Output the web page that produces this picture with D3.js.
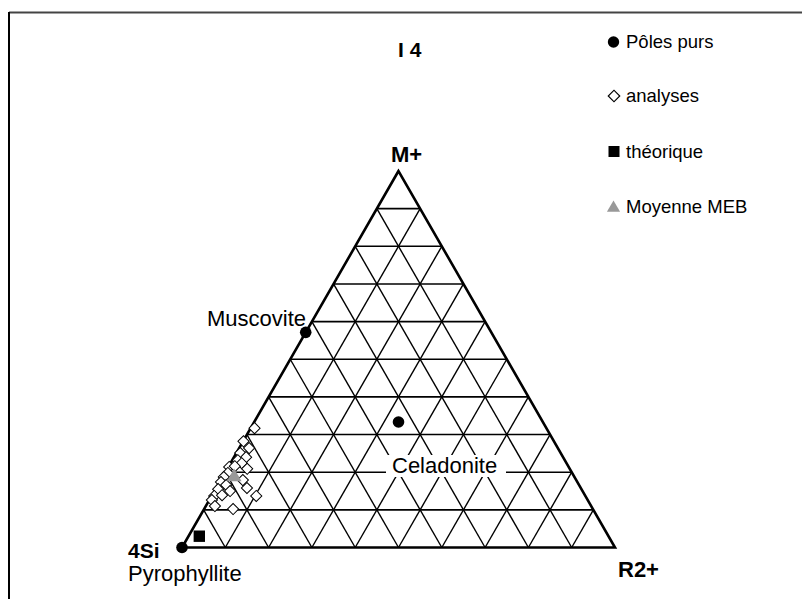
<!DOCTYPE html>
<html>
<head>
<meta charset="utf-8">
<script src="https://cdn.jsdelivr.net/npm/d3@7"></script>
<style>
  html, body { margin: 0; padding: 0; background: #fff; }
  svg { display: block; font-family: "Liberation Sans", Arial, sans-serif; }
</style>
</head>
<body>
<svg id="chart" width="802" height="599"></svg>
<script>
// ---------- data ----------
const title = "I 4";
const vertexLabels = ["M+", "4Si", "R2+"];
const gridSteps = [0.1, 0.2, 0.3, 0.4, 0.5, 0.6, 0.7, 0.8, 0.9];

// pure end-members (Pôles purs): M+, 4Si, R2+
const polesNames = ["Muscovite", "Celadonite", "Pyrophyllite"];
const polesM  = [1, 1, 0];
const polesSi = [0.75, 1, 1];
const polesR  = [0, 1, 0];

// analyses (percent M+, R2+; 4Si = remainder)
const analysesM = [31.7, 28.2, 26.4, 25.1, 24.0, 23.2, 22.4, 20.9, 21.4, 21.6, 19.8, 18.7,
                   17.9, 17.4, 16.6, 15.5, 15.8, 15.0, 13.7, 12.6, 13.7, 11.0, 10.2, 13.9];
const analysesR = [0.9, 0.1, 2.3, 0.9, 2.8, 1.3, 2.6, 4.6, 0.2, 1.4, 0.7, 0.3,
                   5.1, 0.3, 1.9, 0.6, 7.1, 3.6, 0.6, 0.6, 10.3, 2.1, 6.7, 2.3];
const analysesSi = analysesM.map((m, i) => 100 - m - analysesR[i]);

// théorique
const theoM = [3.0], theoR = [2.5], theoSi = [94.5];
// Moyenne MEB
const mebM = [18.7], mebR = [2.7], mebSi = [78.6];

const legendLabels = ["Pôles purs", "analyses", "théorique", "Moyenne MEB"];

// ---------- scales ----------
const svg = d3.select("#chart");
const xs = d3.scaleLinear().domain([0, 1]).range([182, 615]);
const ys = d3.scaleLinear().domain([0, 1]).range([547.5, 171]);
function proj(m, s, r) {
  const t = m + s + r;
  const mm = m / t, rr = r / t;
  return [xs(rr + mm / 2), ys(mm)];
}
const line = d3.line();

// ---------- frame ----------
svg.append("line").attr("x1", 9).attr("y1", 12.5).attr("x2", 802).attr("y2", 12.5)
  .attr("stroke", "#444").attr("stroke-width", 2);
svg.append("line").attr("x1", 9).attr("y1", 12).attr("x2", 9).attr("y2", 599)
  .attr("stroke", "#000").attr("stroke-width", 2);

// ---------- grid ----------
const g = svg.append("g");
gridSteps.forEach(v => {
  g.append("path").attr("d", line([proj(v, 1 - v, 0), proj(v, 0, 1 - v)]))
    .attr("stroke", "#000").attr("stroke-width", 1.6).attr("fill", "none");
  g.append("path").attr("d", line([proj(0, 1 - v, v), proj(1 - v, 0, v)]))
    .attr("stroke", "#000").attr("stroke-width", 1.4).attr("fill", "none");
  g.append("path").attr("d", line([proj(0, v, 1 - v), proj(1 - v, v, 0)]))
    .attr("stroke", "#000").attr("stroke-width", 1.4).attr("fill", "none");
});
g.append("path")
  .attr("d", line([proj(1, 0, 0), proj(0, 1, 0), proj(0, 0, 1)]) + "Z")
  .attr("stroke", "#000").attr("stroke-width", 2.6).attr("fill", "none")
  .attr("stroke-linejoin", "miter");

// ---------- labels ----------
const labelFont = "22px";
svg.append("text").text(title).attr("x", 398).attr("y", 57)
  .attr("font-size", "21px").attr("font-weight", "bold");
svg.append("text").text(vertexLabels[0]).attr("x", 391).attr("y", 162)
  .attr("font-size", "22px").attr("font-weight", "bold");
svg.append("text").text(vertexLabels[1]).attr("x", 128).attr("y", 558)
  .attr("font-size", "21px").attr("font-weight", "bold");
svg.append("text").text(vertexLabels[2]).attr("x", 618).attr("y", 577)
  .attr("font-size", "22px").attr("font-weight", "bold");

svg.append("rect").attr("x", 386).attr("y", 455).attr("width", 120).attr("height", 22)
  .attr("fill", "#fff");
svg.append("text").text(polesNames[1]).attr("x", 392).attr("y", 473)
  .attr("font-size", labelFont);
svg.append("text").text(polesNames[0]).attr("x", 207).attr("y", 326)
  .attr("font-size", labelFont);
svg.append("text").text(polesNames[2]).attr("x", 128).attr("y", 581)
  .attr("font-size", labelFont);

// ---------- marks ----------
const diamond = d3.symbol().type(d3.symbolSquare).size(62);
svg.append("g").selectAll("path").data(analysesM).join("path")
  .attr("d", diamond)
  .attr("transform", (d, i) => {
    const p = proj(d, analysesSi[i], analysesR[i]);
    return `translate(${p[0]},${p[1]}) rotate(45)`;
  })
  .attr("fill", "#fff").attr("stroke", "#000").attr("stroke-width", 1);

const sq = d3.symbol().type(d3.symbolSquare).size(130);
svg.append("g").selectAll("path").data(theoM).join("path")
  .attr("d", sq)
  .attr("transform", (d, i) => { const p = proj(d, theoSi[i], theoR[i]); return `translate(${p[0]},${p[1]})`; })
  .attr("fill", "#000");

const tri = d3.symbol().type(d3.symbolTriangle).size(95);
svg.append("g").selectAll("path").data(mebM).join("path")
  .attr("d", tri)
  .attr("transform", (d, i) => { const p = proj(d, mebSi[i], mebR[i]); return `translate(${p[0]},${p[1]})`; })
  .attr("fill", "#999");

svg.append("g").selectAll("circle").data(polesM).join("circle")
  .attr("cx", (d, i) => proj(d, polesSi[i], polesR[i])[0])
  .attr("cy", (d, i) => proj(d, polesSi[i], polesR[i])[1])
  .attr("r", 5.8).attr("fill", "#000");

// ---------- legend ----------
const legY = [42, 96, 151.5, 207];
const leg = svg.append("g");
leg.append("circle").attr("cx", 613.5).attr("cy", legY[0]).attr("r", 5.7).attr("fill", "#000");
leg.append("path").attr("d", d3.symbol().type(d3.symbolSquare).size(66)())
  .attr("transform", `translate(614,${legY[1]}) rotate(45)`)
  .attr("fill", "#fff").attr("stroke", "#000").attr("stroke-width", 1.2);
leg.append("rect").attr("x", 608.5).attr("y", legY[2] - 5.5).attr("width", 11).attr("height", 11).attr("fill", "#000");
leg.append("path").attr("d", d3.symbol().type(d3.symbolTriangle).size(75)())
  .attr("transform", `translate(613.5,${legY[3] + 1})`).attr("fill", "#999");
leg.selectAll("text").data(legendLabels).join("text")
  .text(d => d).attr("x", 626).attr("y", (d, i) => legY[i] + 6.2)
  .attr("font-size", "18.5px");
</script>
</body>
</html>
